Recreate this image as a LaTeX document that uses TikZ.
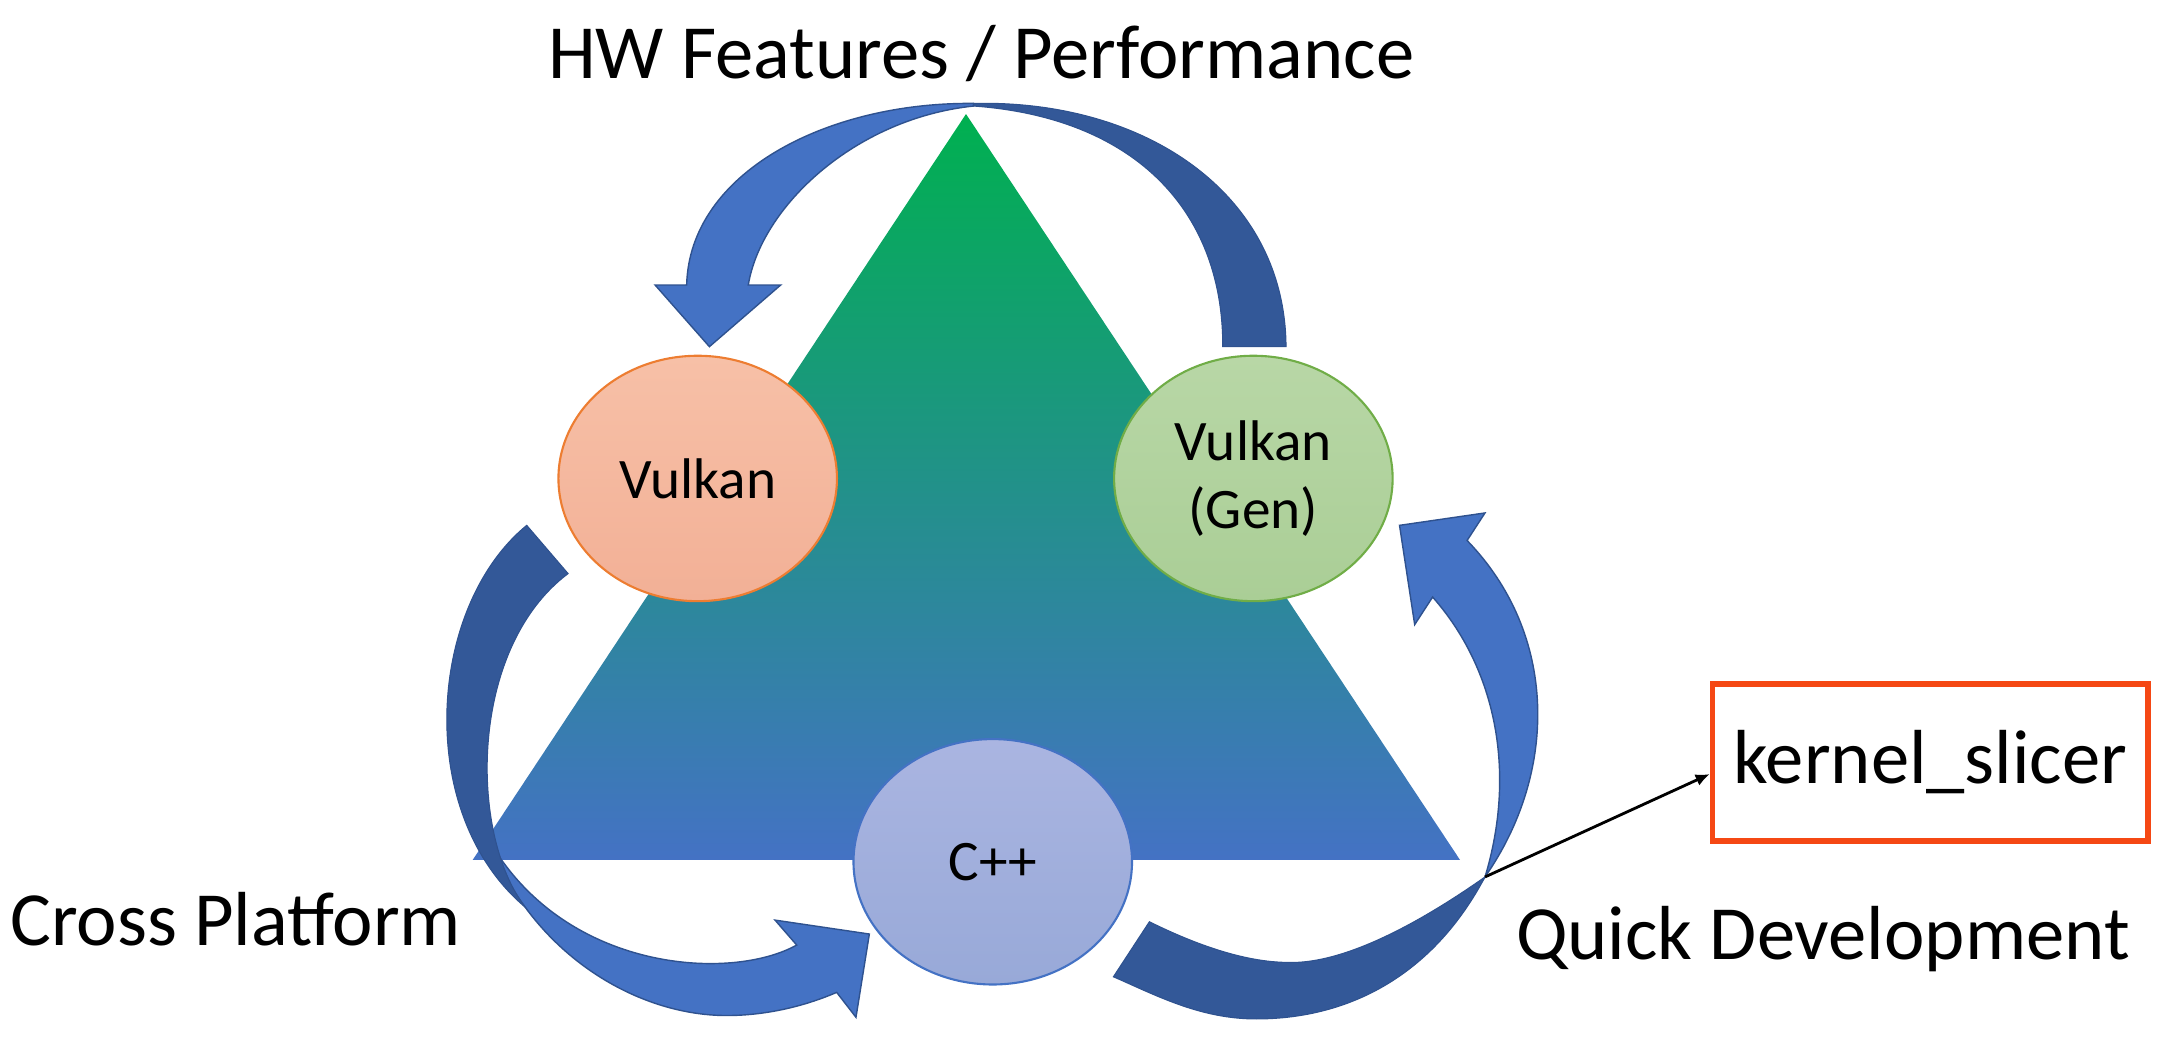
\documentclass[tikz,border=0pt]{standalone}
\usepackage{fontspec}
\setmainfont{Carlito}
\usetikzlibrary{arrows.meta,shapes.geometric}
\definecolor{lightarrow}{RGB}{68,114,196}
\definecolor{darkarrow}{RGB}{51,88,152}
\definecolor{arrowedge}{RGB}{47,82,143}
\definecolor{triGreen}{RGB}{0,176,80}
\definecolor{triBlue}{RGB}{68,114,196}
\definecolor{vkTop}{RGB}{247,192,167}
\definecolor{vkBot}{RGB}{242,176,150}
\definecolor{vkEdge}{RGB}{237,125,49}
\definecolor{genTop}{RGB}{184,215,166}
\definecolor{genBot}{RGB}{170,206,150}
\definecolor{genEdge}{RGB}{112,173,71}
\definecolor{cppTop}{RGB}{170,181,225}
\definecolor{cppBot}{RGB}{152,169,216}
\definecolor{cppEdge}{RGB}{68,114,196}
\definecolor{ksred}{RGB}{245,72,20}
\begin{document}
\begin{tikzpicture}[x=0.13788mm,y=-0.13788mm,
  bigtext/.style={inner sep=0pt, font=\fontsize{21.8}{26}\selectfont},
  bubble/.style={ellipse, minimum width=27.85mm, minimum height=24.54mm, inner sep=0pt, line width=0.6pt, align=center, font=\fontsize{16.3}{19.5}\selectfont},
  lightpart/.style={fill=lightarrow, draw=arrowedge, line width=0.4pt, line join=miter},
  darkpart/.style={fill=darkarrow, draw=arrowedge, line width=0.3pt, line join=miter}]
\useasboundingbox (0,0) rectangle (1568,763);

% triangle
\shade[top color=triGreen, bottom color=triBlue] (700.6,82.7) -- (1058.9,623.7) -- (342.8,623.7) -- cycle;

% top pair
\path[darkpart] (706,75) .. controls (830,72) and (932,140) .. (932.7,251.4)
  -- (886.8,251.4) .. controls (887,150) and (820,85) .. (706,76.9) -- cycle;
\path[lightpart] (706,75) .. controls (600,74) and (500,125) .. (498,206.7)
  -- (475.1,206.7) -- (514.5,251.4) -- (566.2,206.7) -- (542.7,206.7)
  .. controls (552,150) and (620,86) .. (706,76.9) -- cycle;

% left pair
\path[lightpart] (355,610) .. controls (385,690) and (460,736.5) .. (527,736.5)
  .. controls (555,736.5) and (583,730) .. (606.8,719.7)
  -- (620.8,737.8) -- (630.5,677.4) -- (562.1,667.3) -- (577.8,685.4)
  .. controls (530,712) and (410,705) .. (355,610) -- cycle;
\path[darkpart] (382,381) .. controls (310,440) and (300,590) .. (381,658)
  .. controls (340,605) and (340,470) .. (412,416) -- cycle;

% right pair
\path[darkpart] (1077,636) .. controls (1040,706) and (980,739) .. (911,739)
  .. controls (870,739) and (837.5,721.4) .. (807.5,708.4)
  -- (833.6,668.5) .. controls (862,682.5) and (900,698) .. (935,698)
  .. controls (980,699) and (1040,662) .. (1077,636) -- cycle;
\path[lightpart] (1077,636) .. controls (1130,560) and (1130,460) .. (1064,392)
  -- (1077,372) -- (1015,381) -- (1026,453) -- (1039,433)
  .. controls (1085,485) and (1100,560) .. (1077,636) -- cycle;

% bubbles
\node[bubble, draw=vkEdge, top color=vkTop, bottom color=vkBot] (vk) at (506,347) {Vulkan};
\node[bubble, draw=genEdge, top color=genTop, bottom color=genBot] (gen) at (909,347) {Vulkan\\(Gen)};
\node[bubble, draw=cppEdge, top color=cppTop, bottom color=cppBot] (cpp) at (720,625) {C++};

% labels
\node[bigtext, anchor=base west] (hw) at (397,57) {HW Features / Performance};
\node[bigtext, anchor=base west] (cross) at (7,686) {Cross Platform};
\node[bigtext, anchor=base west] (quick) at (1099,696) {Quick Development};

% kernel_slicer box
\node[draw=ksred, line width=1.6pt, minimum width=43.57mm, minimum height=15.72mm, inner sep=0pt,
  font=\fontsize{21.8}{26}\selectfont] (ks) at (1400,553) {kernel\_slicer};
\coordinate (qd) at (1077,636);
\draw[line width=0.8pt, -{Latex[length=4pt,width=3.5pt]}] (qd) -- (ks.183);
\end{tikzpicture}
\end{document}
